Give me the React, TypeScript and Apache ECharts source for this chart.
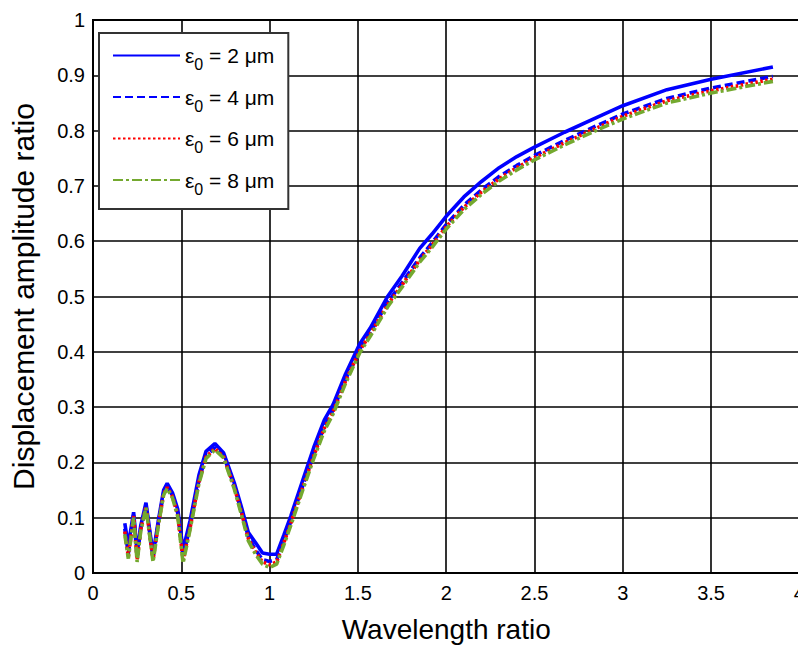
import React, { useEffect, useRef } from "react";
import * as echarts from "echarts";

const xValues = [0.18, 0.2, 0.23, 0.25, 0.27, 0.3, 0.32, 0.34, 0.37, 0.4, 0.42, 0.45, 0.48, 0.51, 0.55, 0.6, 0.64, 0.69, 0.74, 0.8, 0.84, 0.88, 0.92, 0.96, 1.0, 1.04, 1.08, 1.12, 1.19, 1.25, 1.31, 1.36, 1.43, 1.51, 1.57, 1.67, 1.75, 1.85, 1.92, 2.0, 2.1, 2.2, 2.3, 2.4, 2.5, 2.67, 2.86, 3.0, 3.25, 3.5, 3.85];

const eps2 = [0.09, 0.05, 0.11, 0.035, 0.085, 0.127, 0.08, 0.033, 0.095, 0.15, 0.162, 0.145, 0.115, 0.042, 0.095, 0.177, 0.22, 0.234, 0.217, 0.163, 0.12, 0.073, 0.055, 0.036, 0.034, 0.034, 0.068, 0.103, 0.17, 0.227, 0.277, 0.305, 0.36, 0.414, 0.443, 0.501, 0.537, 0.587, 0.613, 0.645, 0.68, 0.708, 0.733, 0.753, 0.77, 0.797, 0.825, 0.845, 0.874, 0.893, 0.915];
const eps4 = [0.08, 0.035, 0.105, 0.028, 0.08, 0.122, 0.075, 0.027, 0.09, 0.145, 0.157, 0.14, 0.108, 0.03, 0.085, 0.168, 0.212, 0.227, 0.212, 0.157, 0.112, 0.065, 0.042, 0.024, 0.021, 0.024, 0.058, 0.093, 0.16, 0.215, 0.265, 0.295, 0.35, 0.405, 0.435, 0.49, 0.525, 0.57, 0.597, 0.63, 0.665, 0.693, 0.717, 0.737, 0.755, 0.782, 0.81, 0.83, 0.858, 0.877, 0.898];
const eps6 = [0.075, 0.03, 0.103, 0.024, 0.078, 0.12, 0.072, 0.024, 0.088, 0.143, 0.155, 0.138, 0.105, 0.024, 0.082, 0.165, 0.21, 0.225, 0.21, 0.155, 0.11, 0.062, 0.038, 0.02, 0.015, 0.02, 0.054, 0.09, 0.157, 0.212, 0.262, 0.292, 0.347, 0.402, 0.432, 0.486, 0.521, 0.566, 0.593, 0.626, 0.661, 0.689, 0.713, 0.733, 0.751, 0.778, 0.806, 0.826, 0.854, 0.872, 0.893];
const eps8 = [0.07, 0.026, 0.1, 0.02, 0.075, 0.118, 0.07, 0.02, 0.086, 0.141, 0.153, 0.136, 0.102, 0.018, 0.079, 0.162, 0.207, 0.223, 0.208, 0.152, 0.106, 0.058, 0.034, 0.016, 0.01, 0.016, 0.05, 0.086, 0.152, 0.207, 0.257, 0.288, 0.343, 0.398, 0.428, 0.482, 0.517, 0.562, 0.589, 0.622, 0.657, 0.685, 0.709, 0.729, 0.747, 0.774, 0.802, 0.821, 0.85, 0.868, 0.889];

const seriesNames = ["ε0 = 2 μm", "ε0 = 4 μm", "ε0 = 6 μm", "ε0 = 8 μm"];
const seriesValues = [eps2, eps4, eps6, eps8];
const seriesColors = ["#0000ff", "#0000ff", "#ff0000", "#74a92f"];
const seriesDash: any[] = ["solid", [8, 4], [2.5, 2.5], [10, 3, 3, 3]];

const FONT = "'Liberation Sans', Arial, sans-serif";
const CHART_W = 830;

export default function App() {
  const ref = useRef<HTMLDivElement>(null);
  useEffect(() => {
    if (!ref.current) return;
    const chart = echarts.init(ref.current, null, { renderer: "svg" });
    const series = seriesNames.map((name, i) => ({
      name,
      type: "line",
      data: xValues.map((x, j) => [x, seriesValues[i][j]]),
      showSymbol: false,
      symbol: "none",
      lineStyle: { color: seriesColors[i], width: 3.6, type: seriesDash[i] },
      itemStyle: { color: seriesColors[i] },
      z: 3 + i,
    }));
    chart.setOption({
      animation: false,
      backgroundColor: "#ffffff",
      textStyle: { fontFamily: FONT },
      grid: {
        left: 88.3,
        right: CHART_W - 799.4,
        top: 20,
        bottom: 73,
        show: true,
        borderColor: "#000",
        borderWidth: 2,
      },
      legend: {
        orient: "vertical",
        left: 99,
        top: 33,
        itemWidth: 67,
        itemHeight: 14,
        itemGap: 14,
        padding: [12, 14, 12, 13],
        backgroundColor: "#fff",
        borderColor: "#333",
        borderWidth: 2,
        borderRadius: 0,
        itemStyle: { color: "transparent", borderColor: "transparent", borderWidth: 0, opacity: 0 },
        data: seriesNames,
        formatter: (name: string) => {
          const rest = name.slice(2);
          return `{e|ε}{s|0}{t|${rest}}`;
        },
        textStyle: {
          fontFamily: FONT,
          color: "#000",
          rich: {
            e: { fontSize: 21, fontFamily: FONT, color: "#000" },
            s: { fontSize: 16, fontFamily: FONT, color: "#000", padding: [18, 0, 0, 0] },
            t: { fontSize: 21, fontFamily: FONT, color: "#000" },
          },
        },
      },
      xAxis: {
        type: "value",
        min: 0,
        max: 4,
        interval: 0.5,
        name: "Wavelength ratio",
        nameLocation: "middle",
        nameGap: 42,
        nameTextStyle: { fontSize: 28, color: "#000", fontFamily: FONT },
        axisLine: { show: true, lineStyle: { color: "#000", width: 2 } },
        axisTick: { show: false },
        axisLabel: { fontSize: 20, color: "#000", margin: 10, fontFamily: FONT },
        splitLine: { show: true, lineStyle: { color: "#000", width: 1.6 } },
      },
      yAxis: {
        type: "value",
        min: 0,
        max: 1,
        interval: 0.1,
        name: "Displacement amplitude ratio",
        nameLocation: "middle",
        nameGap: 55,
        nameTextStyle: { fontSize: 30, color: "#000", fontFamily: FONT },
        axisLine: { show: true, lineStyle: { color: "#000", width: 2 } },
        axisTick: { show: false },
        axisLabel: { fontSize: 20, color: "#000", margin: 8, fontFamily: FONT },
        splitLine: { show: true, lineStyle: { color: "#000", width: 1.6 } },
      },
      series,
    });
    return () => chart.dispose();
  }, []);
  return (
    <div
      style={{ position: "absolute", left: 0, top: 0, width: 798, height: 648, overflow: "hidden", background: "#fff" }}
    >
      <div ref={ref} style={{ width: CHART_W, height: 648 }} />
    </div>
  );
}
